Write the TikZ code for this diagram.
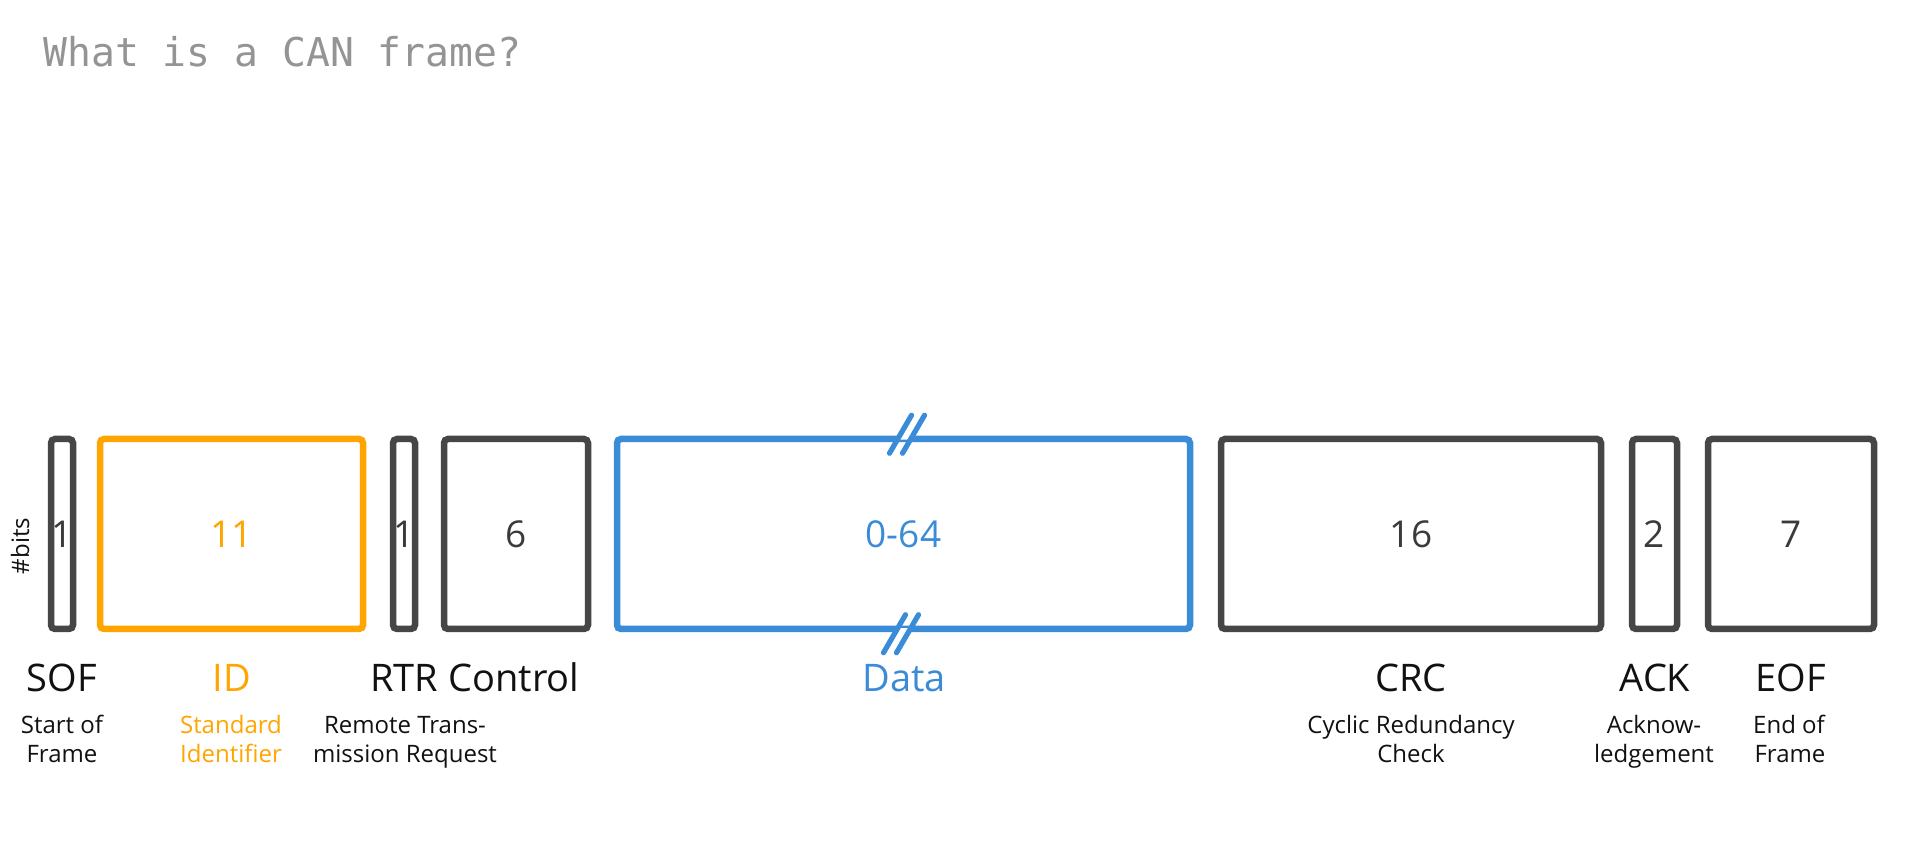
\documentclass[tikz,border=0pt]{standalone}
\usepackage{fontspec}
\setmainfont{Open Sans}
\newfontfamily\monofont{DejaVu Sans Mono}
\usetikzlibrary{calc}
\definecolor{boxgray}{HTML}{464646}
\definecolor{canorange}{HTML}{FFA500}
\definecolor{canblue}{HTML}{3A8BD8}
\definecolor{titlegray}{HTML}{949494}
\definecolor{numgray}{HTML}{3A3A3A}
\definecolor{labelblack}{HTML}{111111}
\begin{document}
\begin{tikzpicture}[x=0.5pt,y=-0.5pt,
  field/.style={draw=boxgray, line width=3.25pt, rounded corners=2pt, minimum height=95pt,
    inner sep=0pt, font=\fontsize{18.5}{22}\selectfont, text=numgray},
  idfield/.style={field, draw=canorange, text=canorange},
  datafield/.style={field, draw=canblue, text=canblue},
  lbl/.style={anchor=base, inner sep=0pt, font=\fontsize{19}{22}\selectfont, text=labelblack},
  desc/.style={anchor=base, inner sep=0pt, font=\fontsize{12}{14}\selectfont, text=labelblack},
  brk/.style={canblue, line width=2.6pt, line cap=round}]
\fill[white] (0,0) rectangle (1919,860);
\useasboundingbox (0,0) rectangle (1919,860);

\node[anchor=base west, inner sep=0pt, font=\monofont\fontsize{19.85}{24}\selectfont, text=titlegray] (title) at (43,67) {What is a CAN frame?};

% fields
\node[field, minimum width=11pt] (sof) at (62,534) {1};
\node[idfield, minimum width=131.5pt] (id) at (231.5,534) {11};
\node[field, minimum width=11pt] (rtr) at (404,534) {1};
\node[field, minimum width=72pt] (ctrl) at (516,534) {6};
\node[datafield, minimum width=286.5pt] (data) at (903.5,534) {0-64};
\node[field, minimum width=190pt] (crc) at (1411,534) {16};
\node[field, minimum width=22.5pt] (ack) at (1654.5,534) {2};
\node[field, minimum width=83pt] (eof) at (1791,534) {7};

% break marks on data field
\begin{scope}[shift={($(data.north)+(3.5,-1.5)$)}]
  \fill[white] (-9.4,5.5) -- (-3.6,-5.5) -- (9.4,-5.5) -- (3.6,5.5) -- cycle;
  \draw[brk] (-17.5,19) -- (4.5,-19);
  \draw[brk] (-4.5,19) -- (17.5,-19);
\end{scope}
\begin{scope}[shift={($(data.south)+(-2.5,1.5)$)}]
  \fill[white] (-9.4,5.5) -- (-3.6,-5.5) -- (9.4,-5.5) -- (3.6,5.5) -- cycle;
  \draw[brk] (-17.5,19) -- (4.5,-19);
  \draw[brk] (-4.5,19) -- (17.5,-19);
\end{scope}

% #bits
\node[desc, anchor=center, rotate=90] (bits) at (20,546) {\#bits};

% labels
\node[lbl] (sofl) at (62,692) {SOF};
\node[lbl, text=canorange] (idl) at (232,692) {ID};
\node[lbl] (rtrl) at (404,692) {RTR};
\node[lbl] (ctrll) at (514,692) {Control};
\node[lbl, text=canblue] (datal) at (904,692) {Data};
\node[lbl] (crcl) at (1411,692) {CRC};
\node[lbl] (ackl) at (1655,692) {ACK};
\node[lbl] (eofl) at (1791,692) {EOF};

% descriptions
\node[desc] (sofd1) at (62,734) {Start of};
\node[desc] (sofd2) at (62,763) {Frame};
\node[desc, text=canorange] (idd1) at (231,734) {Standard};
\node[desc, text=canorange] (idd2) at (231,763) {Identifier};
\node[desc] (rtrd1) at (405,734) {Remote Trans-};
\node[desc] (rtrd2) at (405,763) {mission Request};
\node[desc] (crcd1) at (1411,734) {Cyclic Redundancy};
\node[desc] (crcd2) at (1411,763) {Check};
\node[desc] (ackd1) at (1654,734) {Acknow-};
\node[desc] (ackd2) at (1654,763) {ledgement};
\node[desc] (eofd1) at (1789,734) {End of};
\node[desc] (eofd2) at (1790,763) {Frame};
\end{tikzpicture}
\end{document}
